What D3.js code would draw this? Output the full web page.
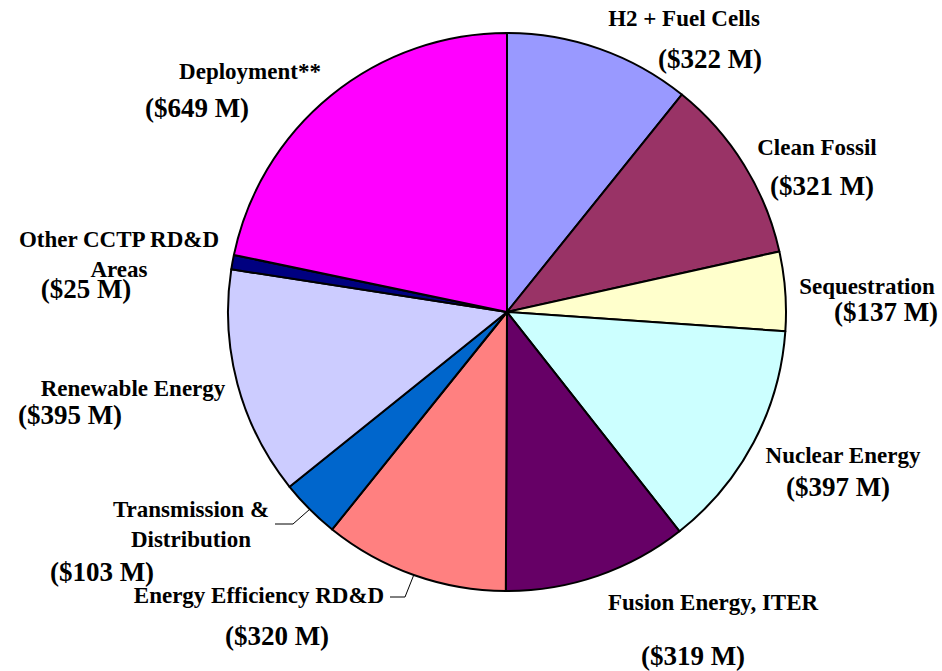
<!DOCTYPE html>
<html>
<head>
<meta charset="utf-8">
<script src="https://cdn.jsdelivr.net/npm/d3@7"></script>
<style>
  body { margin: 0; background: #fff; }
  svg text { font-family: "Liberation Serif", "Times New Roman", serif; font-weight: bold; fill: #000; }
</style>
</head>
<body>
<svg id="canvas"></svg>
<script>
let categories = ["H2 + Fuel Cells", "Clean Fossil", "Sequestration", "Nuclear Energy", "Fusion Energy, ITER",
                  "Energy Efficiency RD&D", "Transmission & Distribution", "Renewable Energy", "Other CCTP RD&D Areas", "Deployment**"]
let values = [322, 321, 137, 397, 319, 320, 103, 395, 25, 649]
let valueLabels = ["($322 M)", "($321 M)", "($137 M)", "($397 M)", "($319 M)", "($320 M)", "($103 M)", "($395 M)", "($25 M)", "($649 M)"]
let colors = ["#9999FF", "#993366", "#FFFFCC", "#CCFFFF", "#660066", "#FF8080", "#0066CC", "#CCCCFF", "#000080", "#FF00FF"]

let width = 942
let height = 671
let cx = 507
let cy = 312
let radius = 279

// label layout: name lines, name position, value position
let labelLayout = [
    {lines: ["H2 + Fuel Cells"], x: 684, y: 26, vx: 710, vy: 68},
    {lines: ["Clean Fossil"], x: 817, y: 155, vx: 822, vy: 195},
    {lines: ["Sequestration"], x: 867, y: 294, vx: 886, vy: 321},
    {lines: ["Nuclear Energy"], x: 843, y: 463, vx: 838, vy: 496},
    {lines: ["Fusion Energy, ITER"], x: 713, y: 610, vx: 693, vy: 665},
    {lines: ["Energy Efficiency RD&D"], x: 259, y: 603, vx: 277, vy: 645, leader: [390, 597, 405, 597]},
    {lines: ["Transmission &", "Distribution"], x: 191, y: 517, vx: 102, vy: 581, leader: [275, 524, 293, 524]},
    {lines: ["Renewable Energy"], x: 133, y: 396, vx: 70, vy: 424},
    {lines: ["Other CCTP RD&D", "Areas"], x: 119, y: 247, vx: 86, vy: 298},
    {lines: ["Deployment**"], x: 250, y: 79, vx: 197, vy: 117}
]

let canvas = d3.select("#canvas")
    .attr("width", width)
    .attr("height", height)

let pie = d3.pie().sort(null).value(d => d)
let arcs = pie(values)

let arc = d3.arc().innerRadius(0).outerRadius(radius)

let g = canvas.append("g")
    .attr("transform", "translate(" + cx + "," + cy + ")")

g.selectAll("path")
    .data(arcs)
    .enter()
    .append("path")
    .attr("d", arc)
    .attr("fill", (d, i) => colors[i])
    .attr("stroke", "#000")
    .attr("stroke-width", 2)
    .attr("stroke-linejoin", "round")

// leader lines to the edge of the small slices
labelLayout.forEach((l, i) => {
    if (!l.leader) return
    let a = (arcs[i].startAngle + arcs[i].endAngle) / 2
    let ex = cx + radius * Math.sin(a)
    let ey = cy - radius * Math.cos(a)
    canvas.append("polyline")
        .attr("points", [l.leader[0], l.leader[1], l.leader[2], l.leader[3], ex, ey].join(" "))
        .attr("fill", "none")
        .attr("stroke", "#000")
        .attr("stroke-width", 1)
})

labelLayout.forEach((l, i) => {
    l.lines.forEach((line, j) => {
        canvas.append("text")
            .attr("x", l.x)
            .attr("y", l.y + j * 30)
            .attr("text-anchor", "middle")
            .style("font-size", "23px")
            .text(line)
    })
    canvas.append("text")
        .attr("x", l.vx)
        .attr("y", l.vy)
        .attr("text-anchor", "middle")
        .style("font-size", "27px")
        .text(valueLabels[i])
})
</script>
</body>
</html>
